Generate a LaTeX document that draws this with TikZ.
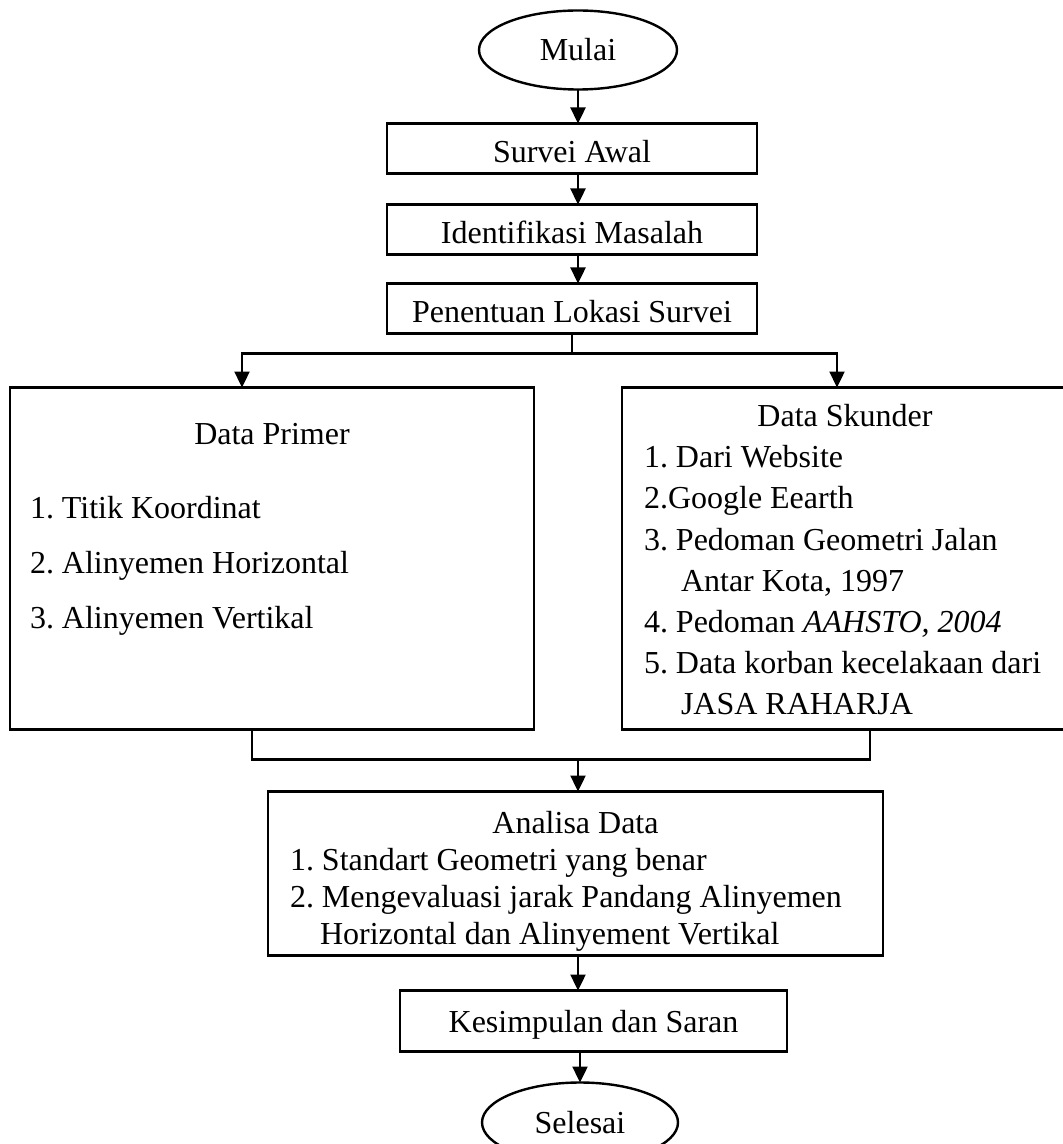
\documentclass[tikz,border=0pt]{standalone}
\usepackage{fontspec}
\setmainfont{Liberation Serif}
\usetikzlibrary{positioning, shapes.geometric, arrows.meta}
\frenchspacing

\begin{document}
\begin{tikzpicture}[
  x=0.5pt, y=-0.5pt,
  every node/.style={font=\fontsize{16}{19}\selectfont, outer sep=0pt},
  endnode/.style={draw, ellipse, line width=1.2pt, minimum width=99pt, minimum height=39.5pt, inner sep=0pt},
  stepbox/.style={draw, line width=1.2pt, minimum width=185pt, minimum height=25pt, inner sep=0pt, text height=14pt, text depth=0pt},
  listbox/.style={draw, line width=1.2pt, inner sep=0pt},
  conn/.style={line width=1.2pt},
  arr/.style={-{Triangle[length=8pt, width=7.5pt]}, line width=1.2pt},
]
  \useasboundingbox (0,0) rectangle (1062,1144);

  % Start and first steps
  \node[endnode] (mulai) at (578,50) {Mulai};
  \node[stepbox, below=17pt of mulai, xshift=-3pt] (survei) {Survei Awal};
  \node[stepbox, below=15.5pt of survei] (ident) {Identifikasi Masalah};
  \node[stepbox, below=14.5pt of ident] (penentuan) {Penentuan Lokasi Survei};

  % Data collection
  \node[listbox, below=27pt of penentuan, xshift=-150pt] (primer) {\parbox[c][171pt][t]{262pt}{\fontsize{16}{27.5}\selectfont
    {\centering\rule{0pt}{28.5pt}Data Primer\par}
    \vspace{9.5pt}
    \raggedright\leftskip=10pt
    1. Titik Koordinat\\
    2. Alinyemen Horizontal\\
    3. Alinyemen Vertikal}};
  \node[listbox, right=44pt of primer] (skunder) {\parbox[c][171pt][t]{223pt}{\fontsize{16}{20.6}\selectfont
    {\centering\rule{0pt}{19.5pt}Data Skunder\par}
    \raggedright\leftskip=11pt
    1. Dari Website\\
    2.Google Eearth\\
    3. Pedoman Geometri Jalan\\
    \hspace*{18.5pt}Antar Kota, 1997\\
    4. Pedoman \textit{AAHSTO, 2004}\\
    5. Data korban kecelakaan dari\\
    \hspace*{18.5pt}JASA RAHARJA}};

  % Analysis and end
  \node[listbox, below=31pt of primer, xshift=151.75pt] (analisa) {\parbox[c][82pt][t]{307.5pt}{\fontsize{16}{18.5}\selectfont
    {\centering\rule{0pt}{21pt}Analisa Data\par}
    \raggedright\leftskip=11pt
    1. Standart Geometri yang benar\\
    2. Mengevaluasi jarak Pandang Alinyemen\\
    \hspace*{15pt}Horizontal dan Alinyement Vertikal}};
  \node[stepbox, below=17.5pt of analisa, xshift=9pt, minimum width=193.5pt, minimum height=30.5pt, text height=11pt] (kesimpulan) {Kesimpulan dan Saran};
  \node[endnode, below=15.5pt of kesimpulan, xshift=-6.75pt, minimum width=98pt, minimum height=40pt] (selesai) {Selesai};

  % Arrows
  \draw[arr] (mulai) -- (mulai |- survei.north);
  \draw[arr] (mulai |- survei.south) -- (mulai |- ident.north);
  \draw[arr] (mulai |- ident.south) -- (mulai |- penentuan.north);
  \coordinate[below=10pt of penentuan] (fork);
  \draw[conn] (penentuan) -- (fork);
  \draw[arr] (fork) -| ([xshift=-15pt]primer.north);
  \draw[arr] (fork) -| ([xshift=-4pt]skunder.north);
  \coordinate[above=16pt of analisa.north, xshift=1.25pt] (merge);
  \draw[conn] ([xshift=-10pt]primer.south) |- (merge) -| ([xshift=12.5pt]skunder.south);
  \draw[arr] (merge) -- (merge |- analisa.north);
  \draw[arr] (merge |- analisa.south) -- (merge |- kesimpulan.north);
  \draw[arr] (selesai |- kesimpulan.south) -- (selesai);
\end{tikzpicture}
\end{document}
